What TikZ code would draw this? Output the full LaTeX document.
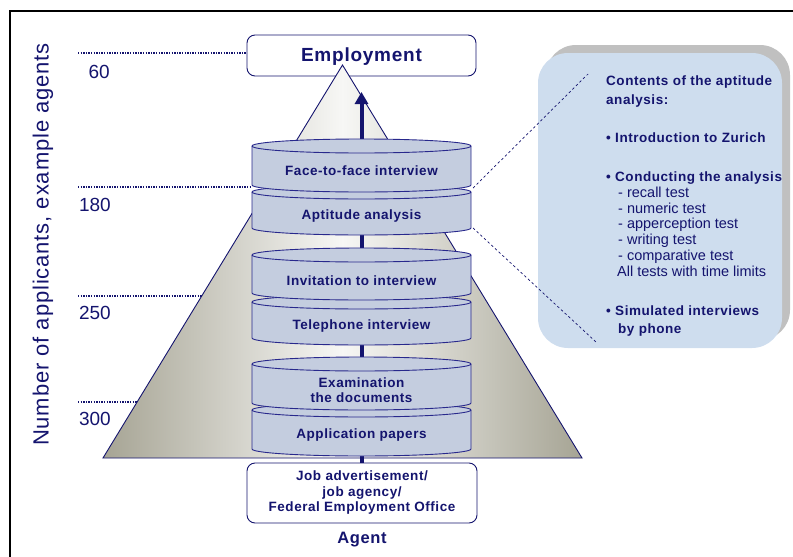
\documentclass[tikz,border=0pt]{standalone}
\usepackage{fontspec}
\setmainfont{Liberation Sans}
\newfontfamily\spaced[LetterSpace=4]{Liberation Sans}
\usetikzlibrary{arrows.meta}
\definecolor{navy}{RGB}{20,20,110}
\definecolor{cylfill}{RGB}{196,205,223}
\definecolor{cylline}{RGB}{40,40,140}
\definecolor{pyrdark}{RGB}{166,164,148}
\definecolor{pyrlight}{RGB}{247,247,245}
\definecolor{boxblue}{RGB}{206,221,238}
\definecolor{shadowgray}{RGB}{192,192,192}
\newcommand\drawcyl[2]{%
  \filldraw[draw=cylline, fill=cylfill, line width=0.9pt] (252,#2)
    arc[start angle=180,end angle=360,x radius=109.5pt,y radius=7pt] -- (471,#1)
    arc[start angle=0,end angle=180,x radius=109.5pt,y radius=7pt] -- cycle;
  \draw[cylline, line width=0.9pt] (252,#1)
    arc[start angle=180,end angle=360,x radius=109.5pt,y radius=7pt];
}
\begin{document}
\begin{tikzpicture}[x=1pt,y=-1pt,
  smallbold/.style={font=\spaced\bfseries\fontsize{13.5}{15.5}\selectfont, text=navy},
  infobold/.style={font=\spaced\bfseries\fontsize{13.5}{15.5}\selectfont, text=navy, anchor=base west, inner sep=0pt},
  inforeg/.style={font=\fontsize{14.5}{16}\selectfont, text=navy, anchor=base west, inner sep=0pt},
  numlabel/.style={font=\fontsize{19}{22}\selectfont, text=navy, anchor=east, inner sep=0pt},
  guide/.style={navy, line width=1.3pt, dash pattern=on 1.3pt off 1.3pt},
  roundbox/.style={draw=navy, fill=white, line width=0.9pt, rounded corners=8pt},
  link/.style={navy, line width=0.7pt, dash pattern=on 2.5pt off 2.5pt}]
\useasboundingbox (0,0) rectangle (793,557);

% frame
\draw[black, line width=2pt] (10,557) -- (10,11) -- (793,11);

% axis label
\node[rotate=90, font=\spaced\fontsize{22}{26}\selectfont, text=navy] (axis) at (43,244.5) {Number of applicants, example agents};

% guide lines and numbers
\draw[guide] (78,53) -- (246,53);
\draw[guide] (78,187) -- (251,187);
\draw[guide] (78,296) -- (251,296);
\draw[guide] (78,402) -- (251,402);
\node[numlabel] (n60) at (110,72) {60};
\node[numlabel] (n180) at (111,205) {180};
\node[numlabel] (n250) at (111,313) {250};
\node[numlabel] (n300) at (111,419) {300};

% employment box
\node[roundbox, minimum width=229pt, minimum height=41pt] (emp) at (361.5,55.5) {};

% pyramid
\coordinate (apex) at (342.5,65);
\coordinate (bl) at (103,458);
\coordinate (br) at (582,458);
\shade[left color=pyrdark, right color=pyrdark, middle color=pyrlight] (apex) -- (bl) -- (br) -- cycle;
\draw[navy, line width=0.9pt] (apex) -- (bl) -- (br) -- cycle;

\node[font=\spaced\bfseries\fontsize{19}{22}\selectfont, text=navy] (emptext) at (361.5,56.5) {Employment};

% agent box
\node[roundbox, minimum width=230pt, minimum height=60pt, smallbold, align=center] (agent) at (362,493)
  {Job advertisement/\\job agency/\\Federal Employment Office};
\node[font=\spaced\bfseries\fontsize{16.5}{20}\selectfont, text=navy] (agentlbl) at (362,540) {Agent};

% arrow
\coordinate (tip) at (361.5,92);
\draw[navy, line width=4pt, -{Triangle[width=13pt,length=12pt]}] (agent.north -| tip) -- (tip);

% cylinders (bottom to top)
\drawcyl{410}{449}
\drawcyl{364}{403}
\drawcyl{302}{338}
\drawcyl{255}{293}
\drawcyl{192}{228}
\drawcyl{146}{185}

\node[smallbold] (c1) at (361.5,171) {Face-to-face interview};
\node[smallbold] (c2) at (361.5,216) {Aptitude analysis};
\node[smallbold] (c3) at (361.5,281) {Invitation to interview};
\node[smallbold] (c4) at (361.5,326) {Telephone interview};
\node[smallbold, align=center] (c5) at (361.5,390) {Examination\\the documents};
\node[smallbold] (c6) at (361.5,435) {Application papers};

% info box
\node[fill=shadowgray, rounded corners=30pt, minimum width=244pt, minimum height=295pt] (infoshadow) at (668,192.5) {};
\node[fill=boxblue, rounded corners=30pt, minimum width=244pt, minimum height=295pt] (info) at (660,200.5) {};

\node[infobold] (t1) at (606,85) {Contents of the aptitude};
\node[infobold] (t2) at (606,104) {analysis:};
\node[infobold] (t3) at (606,142) {\textbullet\ Introduction to Zurich};
\node[infobold] (t4) at (606,181) {\textbullet\ Conducting the analysis};
\node[inforeg] (t5) at (618,197) {- recall test};
\node[inforeg] (t6) at (618,213) {- numeric test};
\node[inforeg] (t7) at (618,228) {- apperception test};
\node[inforeg] (t8) at (618,244) {- writing test};
\node[inforeg] (t9) at (618,260) {- comparative test};
\node[inforeg] (t10) at (617,276) {All tests with time limits};
\node[infobold] (t11) at (606,315) {\textbullet\ Simulated interviews};
\node[infobold] (t12) at (618,333) {by phone};

% dashed links
\coordinate (aptA) at (473,188);
\coordinate (aptB) at (473,228);
\coordinate (infoA) at (588,74);
\coordinate (infoB) at (596,342);
\draw[link] (aptA) -- (infoA);
\draw[link] (aptB) -- (infoB);
\end{tikzpicture}
\end{document}
